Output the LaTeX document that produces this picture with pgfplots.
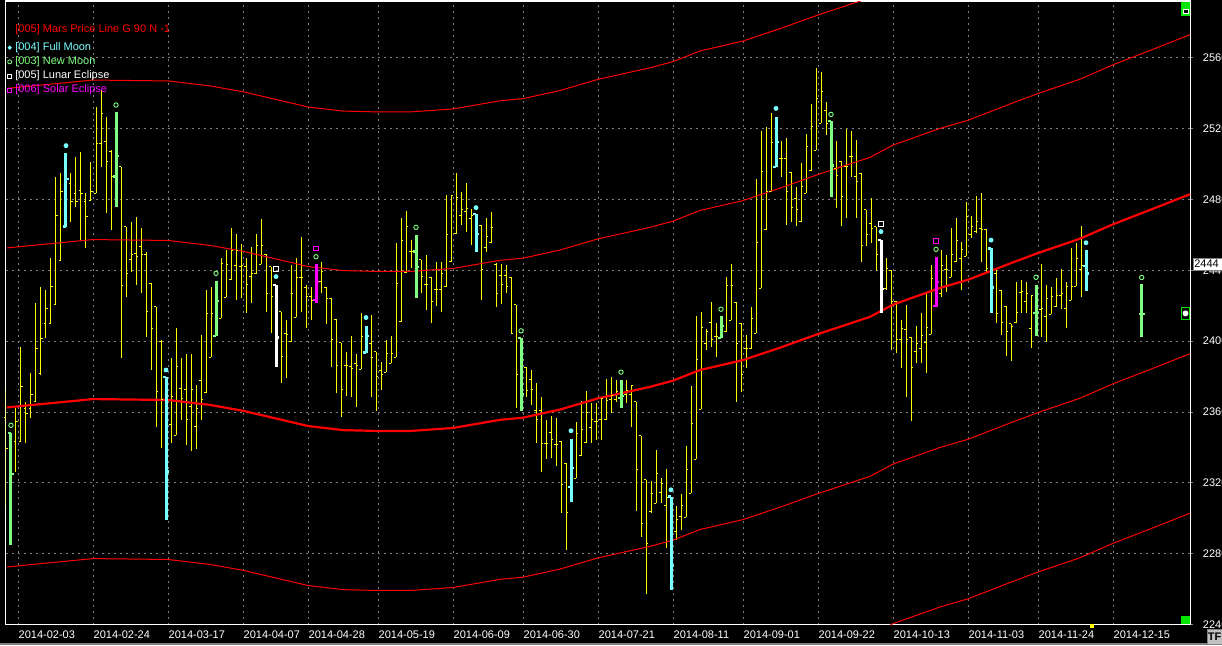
\documentclass[border=0pt]{standalone}
\usepackage{pgfplots}
\usepackage{pgfplotstable}
\usepackage{fontspec}
\setmainfont{Liberation Sans}
\pgfplotsset{compat=1.18}
\definecolor{lcyan}{RGB}{120,255,255}
\definecolor{lgreen}{RGB}{128,255,128}
\definecolor{yel}{RGB}{255,255,0}
\definecolor{mag}{RGB}{255,0,255}
\definecolor{gridgray}{RGB}{128,128,128}
\definecolor{mred}{RGB}{255,0,0}
\definecolor{wgreen}{RGB}{0,230,0}
\definecolor{tfgray}{RGB}{192,192,192}
\pgfdeclareplotmark{rtick}{\pgfpathmoveto{\pgfpointorigin}\pgfpathlineto{\pgfqpoint{1.2pt}{0pt}}\pgfusepathqstroke}
\pgfdeclareplotmark{ltick}{\pgfpathmoveto{\pgfpointorigin}\pgfpathlineto{\pgfqpoint{-1.2pt}{0pt}}\pgfusepathqstroke}
\pgfdeclareplotmark{rtickb}{\pgfpathmoveto{\pgfpointorigin}\pgfpathlineto{\pgfqpoint{1.6pt}{0pt}}\pgfusepathqstroke}
\pgfdeclareplotmark{ltickb}{\pgfpathmoveto{\pgfpointorigin}\pgfpathlineto{\pgfqpoint{-1.6pt}{0pt}}\pgfusepathqstroke}

% OHLC bars: x o h l c
\pgfplotstableread{
x o h l c
6 2356.8 2373.4 2305.7 2339.6
16 2343.3 2362.1 2326.4 2354.6
21 2343.3 2396.9 2343.3 2374.3
26 2362.1 2365.8 2342.3 2359.2
31 2362.1 2381.8 2356.4 2370.0
36 2365.8 2421.3 2365.8 2395.9
41 2381.8 2430.7 2380.9 2401.5
46 2410.0 2428.8 2401.5 2418.5
51 2410.0 2446.7 2410.0 2430.7
56 2420.4 2492.8 2420.4 2471.1
61 2445.7 2494.6 2445.7 2484.3
71 2489.0 2494.6 2467.4 2478.6
76 2483.4 2504.0 2475.8 2478.7
81 2485.2 2506.9 2457.0 2483.4
86 2478.7 2483.4 2452.3 2470.2
91 2479.6 2501.2 2479.6 2484.3
96 2483.4 2532.3 2483.4 2511.6
101 2511.6 2541.7 2498.4 2528.5
106 2512.5 2526.6 2472.1 2501.2
111 2506.9 2507.8 2462.7 2492.8
121 2498.4 2498.4 2390.3 2431.6
126 2464.6 2464.6 2425.1 2438.2
131 2445.8 2467.4 2439.2 2448.6
136 2449.5 2470.2 2431.6 2447.6
141 2453.3 2463.6 2426.9 2448.6
146 2448.6 2450.4 2402.5 2416.6
151 2432.6 2432.6 2383.7 2407.2
156 2419.4 2419.4 2351.7 2371.5
161 2399.7 2400.6 2339.5 2366.8
171 2352.7 2390.3 2342.3 2368.6
176 2347.0 2407.2 2347.0 2385.6
181 2373.4 2390.3 2355.5 2367.7
186 2372.8 2392.7 2341.6 2355.9
191 2363.0 2392.7 2338.1 2372.8
196 2352.0 2375.0 2339.3 2362.0
201 2378.0 2403.5 2355.5 2367.0
206 2370.9 2428.8 2370.9 2415.7
211 2390.9 2430.3 2390.9 2415.7
221 2412.9 2446.7 2412.9 2443.9
226 2424.7 2451.4 2424.7 2443.5
231 2434.5 2463.6 2434.5 2451.4
236 2442.6 2460.4 2423.2 2451.4
241 2442.0 2454.8 2424.1 2442.9
246 2442.0 2446.7 2416.1 2432.2
251 2436.4 2453.3 2421.3 2437.9
256 2437.9 2460.4 2437.9 2454.2
261 2443.5 2468.7 2443.5 2454.2
266 2448.6 2449.1 2416.6 2427.0
271 2442.0 2442.0 2404.8 2425.1
281 2416.6 2416.6 2376.2 2391.6
286 2404.4 2411.9 2379.0 2404.0
291 2399.7 2442.9 2399.7 2427.0
296 2413.4 2446.7 2413.4 2436.0
301 2436.0 2458.9 2416.6 2436.0
306 2430.3 2431.7 2407.2 2425.0
311 2425.1 2430.3 2411.9 2423.2
321 2433.5 2444.8 2427.3 2439.2
326 2430.3 2430.3 2409.7 2424.1
331 2424.1 2424.1 2385.2 2401.0
336 2412.3 2412.3 2370.9 2386.5
341 2399.1 2399.1 2357.4 2372.8
346 2386.0 2394.0 2369.1 2386.5
351 2385.6 2402.9 2368.7 2384.7
356 2387.1 2392.7 2363.0 2386.0
361 2384.1 2416.1 2384.1 2402.5
371 2398.4 2414.8 2368.7 2390.9
376 2394.1 2394.1 2360.8 2380.0
381 2383.4 2388.5 2372.5 2380.9
386 2382.3 2400.7 2382.3 2393.2
391 2387.5 2403.0 2387.5 2393.2
396 2390.9 2455.2 2390.9 2432.3
401 2411.0 2469.3 2411.0 2456.7
406 2438.7 2473.6 2438.7 2464.6
411 2450.5 2457.1 2441.1 2450.5
421 2445.8 2445.8 2427.0 2436.4
426 2431.7 2448.6 2417.6 2431.7
431 2436.0 2436.0 2410.1 2422.3
436 2429.3 2444.9 2419.9 2429.3
441 2429.3 2444.9 2416.7 2438.3
446 2430.8 2482.5 2430.8 2459.9
451 2444.9 2481.9 2444.9 2481.9
456 2460.5 2494.7 2460.5 2481.1
461 2470.6 2484.0 2465.5 2474.0
466 2473.1 2489.4 2461.8 2474.9
471 2469.3 2474.4 2454.3 2470.6
481 2465.5 2465.5 2423.2 2440.2
486 2452.9 2469.3 2450.5 2458.9
491 2455.6 2473.1 2455.6 2464.2
496 2443.5 2443.9 2419.1 2427.0
501 2437.3 2443.5 2421.0 2431.7
506 2437.3 2443.0 2427.4 2430.8
511 2436.0 2436.4 2404.4 2404.4
516 2420.4 2420.4 2362.1 2381.0
526 2385.3 2385.6 2368.3 2372.1
531 2378.1 2383.7 2364.0 2372.5
536 2360.8 2376.6 2342.4 2355.6
541 2360.8 2368.3 2325.9 2342.4
546 2342.0 2355.6 2333.4 2342.0
551 2348.4 2357.8 2334.0 2344.3
556 2341.5 2356.5 2329.6 2341.5
561 2343.4 2343.4 2303.3 2318.9
566 2331.1 2331.1 2281.9 2303.3
576 2322.7 2354.6 2322.7 2348.1
581 2335.3 2366.0 2335.3 2350.3
586 2342.8 2371.6 2342.8 2359.7
591 2351.4 2365.0 2342.4 2355.9
596 2354.6 2365.0 2344.3 2354.6
601 2355.6 2367.8 2344.3 2367.8
606 2355.6 2378.5 2355.6 2366.5
611 2367.2 2379.6 2359.3 2369.1
616 2367.2 2377.8 2365.4 2371.6
626 2369.7 2377.8 2365.0 2372.1
631 2369.7 2374.8 2351.8 2374.8
636 2365.9 2365.9 2303.9 2327.4
641 2346.6 2346.6 2289.4 2296.9
646 2321.7 2321.7 2257.4 2286.0
651 2303.9 2320.8 2303.3 2313.9
656 2308.6 2338.7 2308.6 2325.1
661 2314.6 2322.7 2308.6 2319.9
666 2307.1 2327.8 2283.2 2312.0
676 2292.6 2307.1 2287.9 2299.2
681 2301.1 2313.9 2293.5 2307.1
686 2300.7 2340.9 2300.7 2327.4
691 2314.2 2374.8 2314.2 2353.3
696 2333.4 2413.9 2333.4 2389.8
701 2361.6 2416.7 2361.6 2407.8
706 2398.4 2406.7 2395.1 2405.4
711 2410.5 2422.3 2396.9 2401.1
716 2402.6 2410.1 2390.9 2402.6
726 2405.4 2436.4 2405.4 2431.3
731 2411.9 2443.3 2411.9 2431.3
736 2421.9 2421.9 2365.9 2398.8
741 2410.1 2410.1 2371.1 2381.3
746 2395.6 2403.5 2385.1 2395.6
751 2395.6 2419.5 2395.6 2412.9
756 2404.4 2491.5 2404.4 2455.7
761 2429.8 2518.5 2429.8 2495.6
766 2462.7 2521.0 2462.7 2484.3
771 2484.3 2528.5 2484.3 2512.1
781 2503.1 2512.9 2492.8 2503.1
786 2503.1 2514.4 2465.5 2484.3
791 2495.2 2495.2 2467.0 2475.3
796 2480.2 2487.1 2465.1 2474.5
801 2467.4 2500.3 2467.4 2487.1
806 2483.4 2516.7 2483.4 2509.7
811 2496.0 2533.6 2496.0 2521.0
816 2507.8 2554.3 2507.8 2537.0
821 2522.9 2551.6 2522.9 2541.1
826 2530.4 2535.1 2516.3 2522.9
836 2497.5 2512.9 2474.9 2493.3
841 2501.6 2501.6 2465.1 2481.5
846 2498.4 2519.7 2469.7 2498.4
851 2504.1 2518.5 2492.8 2504.1
856 2492.8 2513.5 2469.7 2490.0
861 2494.7 2494.7 2444.8 2453.9
866 2474.0 2474.0 2453.9 2459.9
871 2466.5 2480.6 2455.2 2463.6
876 2464.6 2464.6 2439.6 2448.6
886 2429.8 2446.7 2428.9 2441.1
891 2440.1 2440.1 2395.0 2422.3
896 2422.3 2422.7 2393.1 2400.7
901 2400.7 2411.9 2385.1 2407.2
906 2406.6 2420.4 2368.7 2401.0
911 2402.1 2402.1 2355.1 2385.2
916 2394.1 2408.5 2387.9 2398.8
921 2395.9 2416.1 2387.9 2402.9
926 2399.1 2426.6 2382.2 2407.8
931 2404.0 2443.0 2404.0 2435.4
941 2426.6 2451.4 2425.1 2442.9
946 2440.5 2448.6 2427.9 2440.5
951 2435.9 2463.6 2435.9 2448.6
956 2444.8 2469.3 2444.8 2457.0
961 2446.7 2456.1 2428.8 2451.8
966 2448.0 2478.7 2448.0 2470.2
971 2459.9 2470.6 2458.0 2464.9
976 2461.7 2481.9 2460.8 2467.4
981 2463.6 2483.4 2444.8 2462.7
986 2463.1 2463.1 2438.2 2441.1
996 2438.2 2440.5 2410.0 2415.7
1001 2428.8 2428.8 2403.5 2410.4
1006 2419.4 2419.8 2391.6 2405.3
1011 2409.7 2409.7 2389.0 2408.5
1016 2410.4 2433.5 2410.4 2416.1
1021 2427.3 2434.5 2415.7 2427.9
1026 2422.3 2433.5 2416.1 2426.6
1031 2407.2 2426.0 2395.9 2426.0
1041 2417.6 2443.5 2402.1 2418.5
1046 2413.8 2431.7 2399.7 2424.1
1051 2415.3 2430.7 2415.3 2425.1
1056 2419.4 2435.4 2419.4 2425.5
1061 2425.5 2440.5 2417.9 2427.0
1066 2418.5 2433.5 2407.2 2431.1
1071 2423.2 2452.3 2423.2 2431.1
1076 2431.1 2455.5 2431.1 2446.7
1081 2440.5 2464.9 2425.1 2442.9
}\yelbars

\pgfplotstableread{
x o h l c
66 2464.6 2505.9 2464.6 2491.4
166 2379.9 2379.9 2299.1 2326.4
366 2393.5 2408.8 2393.5 2402.9
476 2471.7 2471.7 2450.5 2460.5
571 2317.6 2344.7 2309.5 2328.3
671 2312.3 2312.3 2259.3 2273.2
776 2498.4 2526.6 2498.4 2512.5
991 2452.3 2452.3 2415.7 2430.3
1086 2442.4 2451.4 2428.5 2438.2
}\cyanbars

\pgfplotstableread{
x o h l c
276 2431.7 2431.7 2385.6 2402.1
881 2457.1 2457.1 2415.7 2429.4
}\whitebars

\pgfplotstableread{
x o h l c
11 2348.0 2348.4 2285.0 2324.9
116 2492.8 2529.4 2475.8 2504.4
216 2402.9 2433.9 2402.9 2422.6
416 2450.5 2459.9 2424.6 2441.7
521 2401.6 2401.6 2360.3 2370.2
621 2367.8 2377.8 2362.2 2369.1
721 2401.6 2414.2 2401.6 2408.6
831 2524.2 2524.2 2481.5 2499.0
1036 2415.7 2431.7 2402.9 2415.7
1141.7 2415.2 2432.2 2402.5 2415.2
}\greenbars

\pgfplotstableread{
x o h l c
316 2423.2 2443.3 2421.7 2433.5
936 2419.8 2447.6 2419.4 2433.5
}\magbars

% event markers
\pgfplotstableread{
x y
66 2510.3
166 2383.7
276 2436.4
366 2413.3
476 2475.3
571 2349.4
671 2316.1
776 2531.3
881 2461.8
991 2457.0
1086 2455.5
}\fullmoon

\pgfplotstableread{
x y
11 2352.5
116 2533.2
216 2438.2
316 2447.6
416 2464.2
521 2405.8
621 2382.5
721 2418.0
831 2527.9
936 2451.8
1036 2436.0
1141.7 2435.9
}\newmoon

\pgfplotstableread{
x y
276 2440.5
881 2465.9
}\lunar

\pgfplotstableread{
x y
316 2452.3
936 2456.5
}\solar

% Mars price lines (base line and +-90 harmonics)
\pgfplotstableread{
x m0 p90 p180 n90 n180
7 2362.6 2452.6 2542.6 2272.6 2182.6
93 2367.3 2457.3 2547.3 2277.3 2187.3
168 2366.8 2456.8 2546.8 2276.8 2186.8
210 2364.0 2454.0 2544.0 2274.0 2184.0
243 2360.7 2450.7 2540.7 2270.7 2180.7
290 2354.5 2444.5 2534.5 2264.5 2174.5
308 2352.1 2442.1 2532.1 2262.1 2172.1
343 2349.8 2439.8 2529.8 2259.8 2169.8
378 2349.3 2439.3 2529.3 2259.3 2169.3
410 2349.3 2439.3 2529.3 2259.3 2169.3
453 2351.0 2441.0 2531.0 2261.0 2171.0
500 2355.6 2445.6 2535.6 2265.6 2175.6
523 2356.8 2446.8 2536.8 2266.8 2176.8
560 2361.4 2451.4 2541.4 2271.4 2181.4
598 2367.7 2457.7 2547.7 2277.7 2187.7
650 2374.2 2464.2 2554.2 2284.2 2194.2
673 2377.7 2467.7 2557.7 2287.7 2197.7
700 2383.7 2473.7 2563.7 2293.7 2203.7
743 2389.3 2479.3 2569.3 2299.3 2209.3
780 2396.3 2486.3 2576.3 2306.3 2216.3
818 2404.0 2494.0 2584.0 2314.0 2224.0
870 2413.7 2503.7 2593.7 2323.7 2233.7
893 2420.6 2510.6 2600.6 2330.6 2240.6
940 2430.0 2520.0 2610.0 2340.0 2250.0
968 2434.6 2524.6 2614.6 2344.6 2254.6
1010 2443.8 2533.8 2623.8 2353.8 2263.8
1038 2449.7 2539.7 2629.7 2359.7 2269.7
1080 2457.8 2547.8 2637.8 2367.8 2277.8
1113 2465.9 2555.9 2645.9 2375.9 2285.9
1150 2474.0 2564.0 2654.0 2384.0 2294.0
1190 2482.9 2572.9 2662.9 2392.9 2302.9
}\mars

\pgfplotsset{
  barv/.style={forget plot, only marks, mark=rtickb, color=#1, mark options={line width=1.2pt},
    error bars/.cd, y dir=both, y explicit, error mark=none,
    error bar style={color=#1, line width=1.5pt}},
  baro/.style={forget plot, only marks, mark=ltickb, color=#1, mark options={line width=1.2pt}},
}

\begin{document}
\begin{tikzpicture}
\useasboundingbox (0,0) rectangle (611pt,322.5pt);
\fill[black] (0,0) rectangle (611pt,322.5pt);
\fill[gridgray] (0,0) rectangle (611pt,1pt);
\begin{axis}[
  at={(2.85pt,10.15pt)}, anchor=south west,
  scale only axis, width=592.3pt, height=311.85pt,
  xmin=5.7, xmax=1190.3, ymin=2240, ymax=2591.9,
  axis line style={white, line width=0.6pt},
  font=\fontsize{5.5}{6.6}\selectfont,
  xtick={18.3,93.3,168.3,243.3,308.3,378.3,453.3,523.3,598.3,673.3,743.3,818.3,893.3,968.3,1038.3,1113.3},
  xticklabels={2014-02-03,2014-02-24,2014-03-17,2014-04-07,2014-04-28,2014-05-19,2014-06-09,2014-06-30,2014-07-21,2014-08-11,2014-09-01,2014-09-22,2014-10-13,2014-11-03,2014-11-24,2014-12-15},
  ytick={2240,2280,2320,2360,2400,2440,2480,2520,2560},
  yticklabels={2240,2280,2320,2360,2400,2440,2480,2520,2560},
  xtick pos=bottom, ytick pos=right, yticklabel pos=right,
  xtick style={draw=none},
  ytick style={gridgray, line width=0.5pt},
  tick align=outside, major tick length=1.5pt,
  xticklabel style={anchor=north west, inner sep=0pt, text=white, yshift=-1.5pt},
  yticklabel style={anchor=west, inner sep=0pt, text=white, xshift=4.6pt},
  xmajorgrids, ymajorgrids,
  grid style={gridgray, line width=0.5pt, dash pattern=on 1pt off 2pt},
  legend style={draw=none, fill=none, at={(0,1)}, anchor=north west,
    xshift=0.8pt, yshift=-20.4pt, inner sep=0pt, row sep=1.6pt,
    nodes={inner sep=0pt},
    font=\fontsize{5.5}{6.4}\selectfont, column sep=1.8pt},
  legend cell align=left,
  legend image code/.code={\draw[#1] plot[only marks] coordinates {(0pt,0pt)};},
]
% yellow OHLC bars
\addplot[forget plot, only marks, mark=rtick, color=yel, mark options={line width=0.5pt},
  error bars/.cd, y dir=both, y explicit, error mark=none, error bar style={color=yel, line width=0.5pt}]
  table[x=x, y=c, y error plus expr=\thisrow{h}-\thisrow{c}, y error minus expr=\thisrow{c}-\thisrow{l}] {\yelbars};
\addplot[forget plot, only marks, mark=ltick, color=yel, mark options={line width=0.5pt}]
  table[x=x, y=o] {\yelbars};
% Mars price lines
\addplot[forget plot, mred, line width=0.5pt] table[x=x, y=p180] {\mars};
\addplot[forget plot, mred, line width=0.5pt] table[x=x, y=p90] {\mars};
\addplot[forget plot, mred, line width=1.1pt] table[x=x, y=m0] {\mars};
\addplot[forget plot, mred, line width=0.5pt] table[x=x, y=n90] {\mars};
\addplot[forget plot, mred, line width=0.5pt] table[x=x, y=n180] {\mars};
% coloured event bars
\addplot[barv=lcyan] table[x=x, y=c, y error plus expr=\thisrow{h}-\thisrow{c}, y error minus expr=\thisrow{c}-\thisrow{l}] {\cyanbars};
\addplot[baro=lcyan] table[x=x, y=o] {\cyanbars};
\addplot[barv=white] table[x=x, y=c, y error plus expr=\thisrow{h}-\thisrow{c}, y error minus expr=\thisrow{c}-\thisrow{l}] {\whitebars};
\addplot[baro=white] table[x=x, y=o] {\whitebars};
\addplot[barv=lgreen] table[x=x, y=c, y error plus expr=\thisrow{h}-\thisrow{c}, y error minus expr=\thisrow{c}-\thisrow{l}] {\greenbars};
\addplot[baro=lgreen] table[x=x, y=o] {\greenbars};
\addplot[barv=mag] table[x=x, y=c, y error plus expr=\thisrow{h}-\thisrow{c}, y error minus expr=\thisrow{c}-\thisrow{l}] {\magbars};
\addplot[baro=mag] table[x=x, y=o] {\magbars};
% event markers
\addplot[forget plot, only marks, mark=*, mark size=1pt, color=lcyan] table[x=x,y=y] {\fullmoon};
\addplot[forget plot, only marks, mark=o, mark size=1.1pt, color=lgreen, mark options={line width=0.45pt}] table[x=x,y=y] {\newmoon};
\addplot[forget plot, only marks, mark=square, mark size=1.2pt, color=white, mark options={line width=0.5pt}] table[x=x,y=y] {\lunar};
\addplot[forget plot, only marks, mark=square, mark size=1.2pt, color=mag, mark options={line width=0.5pt}] table[x=x,y=y] {\solar};
% legend
\addlegendimage{only marks, mark=*, mark size=0.8pt, color=lcyan}
\addlegendentry{\textcolor{lcyan}{[004] Full Moon}}
\addlegendimage{only marks, mark=o, mark size=1pt, color=lgreen}
\addlegendentry{\textcolor{lgreen}{[003] New Moon}}
\addlegendimage{only marks, mark=square, mark size=1pt, color=white}
\addlegendentry{\textcolor{white}{[005] Lunar Eclipse}}
\addlegendimage{only marks, mark=square, mark size=1pt, color=mag}
\addlegendentry{\textcolor{mag}{[006] Solar Eclipse}}
\node[anchor=west, inner sep=0pt, text=mred, font=\fontsize{5.5}{6.6}\selectfont] at (axis cs:15,2575.6) {[005] Mars Price Line G 90 N -1};
\end{axis}
% chart-window widgets
\node[fill=white, draw=gridgray, line width=0.3pt, text=black, inner sep=0.6pt, anchor=west,
  minimum height=6pt, text width=16pt, font=\fontsize{5.5}{6}\selectfont] at (596.4pt,190.5pt) {2444};
\draw[wgreen, line width=0.5pt] (590.9pt,163.0pt) rectangle (594.6pt,168.6pt);
\fill[white] (592.75pt,165.8pt) circle (1.5pt);
\fill[wgreen] (590.5pt,314.7pt) rectangle (595pt,321.5pt);
\draw[white, fill=black, line width=0.4pt] (591.5pt,315.8pt) rectangle (594pt,318pt);
\fill[wgreen] (590.5pt,10.3pt) rectangle (595pt,14.3pt);
\fill[yel] (545pt,8.5pt) rectangle (547pt,10.5pt);
\draw[fill=tfgray, draw=gridgray, line width=0.4pt] (603.6pt,0.3pt) rectangle (611pt,7.6pt);
\node[text=black, font=\bfseries\fontsize{5.5}{6}\selectfont, inner sep=0pt] at (607.3pt,3.95pt) {TF};
\end{tikzpicture}
\end{document}
